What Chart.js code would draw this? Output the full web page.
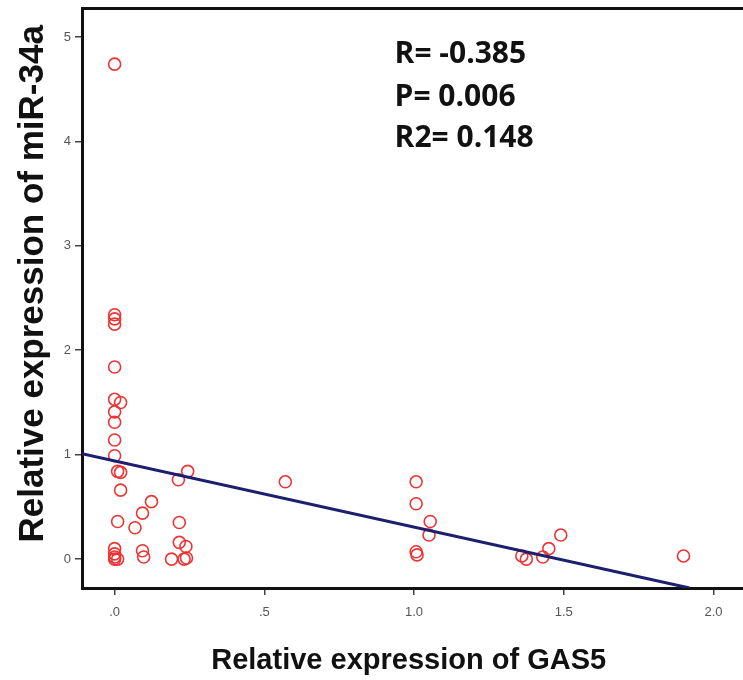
<!DOCTYPE html>
<html>
<head>
<meta charset="utf-8">
<script src="https://cdn.jsdelivr.net/npm/chart.js@4.4.1/dist/chart.umd.min.js"></script>
<style>
  html, body { margin: 0; padding: 0; background: #fff; overflow: hidden; }
  /* a bit larger than the window so the frame runs off the right edge like the original */
  #wrap { width: 751px; height: 683px; margin-top: -3px; position: relative; }
  canvas { display: block; }
</style>
</head>
<body>
<div id="wrap"><canvas id="myChart"></canvas></div>
<script>
'use strict';
// data
const gas5 = [
    0.0, 0.0, 0.0, 0.0, 0.0, 0.0, 0.02, 0.0, 0.0, 0.0, 0.0, 0.01, 0.02, 0.02, 0.01,
    0.0, 0.0, 0.0, 0.01, 0.0,
    0.068, 0.093, 0.123, 0.093, 0.097, 0.19,
    0.213, 0.244, 0.216, 0.216, 0.238, 0.232, 0.24,
    0.57,
    1.007, 1.007, 1.054, 1.05, 1.007, 1.01,
    1.36, 1.375, 1.43, 1.45, 1.49,
    1.90
];
const mir34a = [
    4.74, 2.34, 2.30, 2.25, 1.84, 1.53, 1.50, 1.41, 1.31, 1.14, 0.99, 0.84, 0.83, 0.66, 0.36,
    0.10, 0.05, 0.02, 0.0, 0.0,
    0.30, 0.44, 0.55, 0.08, 0.02, 0.0,
    0.76, 0.84, 0.35, 0.16, 0.12, 0.0, 0.01,
    0.74,
    0.74, 0.53, 0.36, 0.23, 0.07, 0.04,
    0.03, 0.0, 0.02, 0.10, 0.23,
    0.03
];
// fitted line (ends at the frame)
const fitX = [-0.109, 1.92];
const fitY = [1.01, -0.277];

const xTickLabels = ['.0', '.5', '1.0', '1.5', '2.0'];
const yTickLabels = ['0', '1', '2', '3', '4', '5'];
const statLines = ['R= -0.385', 'P= 0.006', 'R2= 0.148'];

const points = gas5.map((v, i) => ({ x: v, y: mir34a[i] }));
const fitPoints = fitX.map((v, i) => ({ x: v, y: fitY[i] }));

// stats text in the upper right
const statsText = {
    id: 'statsText',
    afterDatasetsDraw(chart) {
        const { ctx, scales: { x, y } } = chart;
        ctx.save();
        ctx.font = 'bold 30px "Open Sans", Lato, sans-serif';
        ctx.fillStyle = '#111';
        ctx.textBaseline = 'middle';
        ctx.textAlign = 'left';
        const px = x.getPixelForValue(0.935);
        const rows = [4.83, 4.42, 4.03];
        statLines.forEach((t, i) => ctx.fillText(t, px, y.getPixelForValue(rows[i])));
        ctx.restore();
    }
};

const ctx = document.getElementById('myChart');
const myChart = new Chart(ctx.getContext('2d'), {
    type: 'scatter',
    data: {
        datasets: [{
            data: points,
            pointStyle: 'circle',
            pointRadius: 6,
            pointBorderWidth: 1.6,
            pointBorderColor: '#ee3333',
            pointBackgroundColor: 'rgba(0,0,0,0)',
            order: 2
        }, {
            type: 'line',
            data: fitPoints,
            borderColor: '#1c1f6e',
            borderWidth: 3,
            pointRadius: 0,
            fill: false,
            order: 1
        }]
    },
    options: {
        responsive: true,
        maintainAspectRatio: false,
        animation: false,
        layout: { padding: 0 },
        plugins: {
            legend: { display: false },
            tooltip: { enabled: false }
        },
        scales: {
            x: {
                type: 'linear',
                min: -0.109,
                max: 2.1,
                afterFit: s => { s.height = 92; },
                ticks: {
                    stepSize: 0.5,
                    includeBounds: false,
                    color: '#555',
                    padding: 10,
                    font: { family: '"Liberation Sans", Arial, sans-serif', size: 13 },
                    callback: v => xTickLabels[Math.round(v * 2)]
                },
                grid: { drawOnChartArea: false, drawTicks: true, tickLength: 7, color: '#444', lineWidth: 1.5 },
                border: { display: true, color: '#111', width: 3 },
                title: {
                    display: true,
                    text: 'Relative expression of GAS5\u00a0',
                    color: '#111',
                    padding: { top: 0, bottom: 2 },
                    font: { family: '"Liberation Sans", Arial, sans-serif', size: 29, weight: 'bold' }
                }
            },
            x2: {
                type: 'linear',
                position: 'top',
                min: -0.109,
                max: 2.1,
                afterFit: s => { s.height = 0; },
                ticks: { display: false },
                grid: { display: false },
                border: { display: true, color: '#111', width: 3 }
            },
            y: {
                type: 'linear',
                min: -0.277,
                max: 5.27,
                afterFit: s => { s.width = 82; },
                ticks: {
                    stepSize: 1,
                    includeBounds: false,
                    color: '#555',
                    padding: 4,
                    font: { family: '"Liberation Sans", Arial, sans-serif', size: 13 },
                    callback: v => yTickLabels[Math.round(v)]
                },
                grid: { drawOnChartArea: false, drawTicks: true, tickLength: 7, color: '#444', lineWidth: 1.5 },
                border: { display: true, color: '#111', width: 3 },
                title: {
                    display: true,
                    text: '\u00a0\u00a0\u00a0Relative expression of miR-34a',
                    color: '#111',
                    padding: { top: 12, bottom: 0 },
                    font: { family: '"Liberation Sans", Arial, sans-serif', size: 35, weight: 'bold' }
                }
            }
        }
    },
    plugins: [statsText]
});
</script>
</body>
</html>
